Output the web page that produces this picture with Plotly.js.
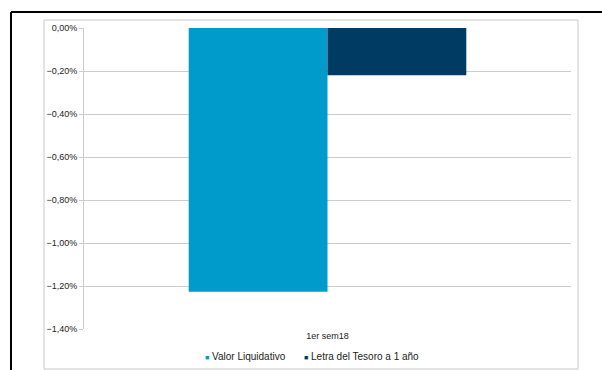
<!DOCTYPE html>
<html>
<head>
<meta charset="utf-8">
<script src="https://cdn.plot.ly/plotly-3.0.1.min.js"></script>
<style>html,body{margin:0;padding:0;background:#fff;}#chart{width:602px;height:370px;}</style>
</head>
<body>
<div id="chart"></div>
<script>
const categories = ["1er sem18"];
const seriesNames = ["Valor Liquidativo", "Letra del Tesoro a 1 año"];
const seriesColors = ["#009BCB", "#003B63"];
const valorLiquidativo = [-0.01227];
const letraTesoro = [-0.0022];
const yTickVals = [0, -0.002, -0.004, -0.006, -0.008, -0.010, -0.012, -0.014];

const PX = (px) => (px - 84) / 487;
const PY = (py) => (329 - py) / 301;

const traces = [
  {type: 'bar', name: seriesNames[0], x: categories, y: valorLiquidativo, marker: {color: seriesColors[0]}, hoverinfo: 'skip'},
  {type: 'bar', name: seriesNames[1], x: categories, y: letraTesoro, marker: {color: seriesColors[1]}, hoverinfo: 'skip'}
];

const legendX = [203, 302];
const legendAnn = seriesNames.map((n, i) => ({
  xref: 'paper', yref: 'paper', x: PX(legendX[i]), y: PY(356), xanchor: 'left', yanchor: 'middle',
  showarrow: false, align: 'left',
  text: '<span style="color:' + seriesColors[i] + ';font-size:7px">■</span> ' + n,
  font: {size: 10, color: '#222'}
}));

const layout = {
  width: 602, height: 370,
  margin: {l: 84, r: 31, t: 28, b: 41},
  paper_bgcolor: '#fff', plot_bgcolor: '#fff',
  separators: ',.',
  barmode: 'group', bargap: 0.43, bargroupgap: 0,
  font: {family: 'Liberation Sans, Arial, sans-serif', size: 9, color: '#222'},
  showlegend: false,
  xaxis: {showgrid: false, showline: false, zeroline: false, ticks: '', tickfont: {size: 9}, automargin: false},
  yaxis: {range: [-0.014, 0], tickvals: yTickVals, tickformat: '.2%', showgrid: true, gridcolor: '#cccccc', gridwidth: 1,
          zeroline: false, showline: true, linecolor: '#cccccc', linewidth: 1, ticks: 'outside', ticklen: 4, tickcolor: '#cccccc',
          tickfont: {size: 9}, automargin: false},
  annotations: legendAnn,
  shapes: [
    {type: 'rect', xref: 'paper', yref: 'paper', x0: PX(44), x1: PX(578), y0: PY(369), y1: PY(20), line: {color: '#c8c8c8', width: 1}, layer: 'below'},
    {type: 'line', xref: 'paper', yref: 'paper', x0: PX(11), x1: PX(603), y0: PY(12), y1: PY(12), line: {color: '#000', width: 2}},
    {type: 'line', xref: 'paper', yref: 'paper', x0: PX(11), x1: PX(11), y0: PY(12), y1: PY(372), line: {color: '#000', width: 2}}
  ]
};

Plotly.newPlot('chart', traces, layout, {displayModeBar: false, staticPlot: true});
</script>
</body>
</html>
